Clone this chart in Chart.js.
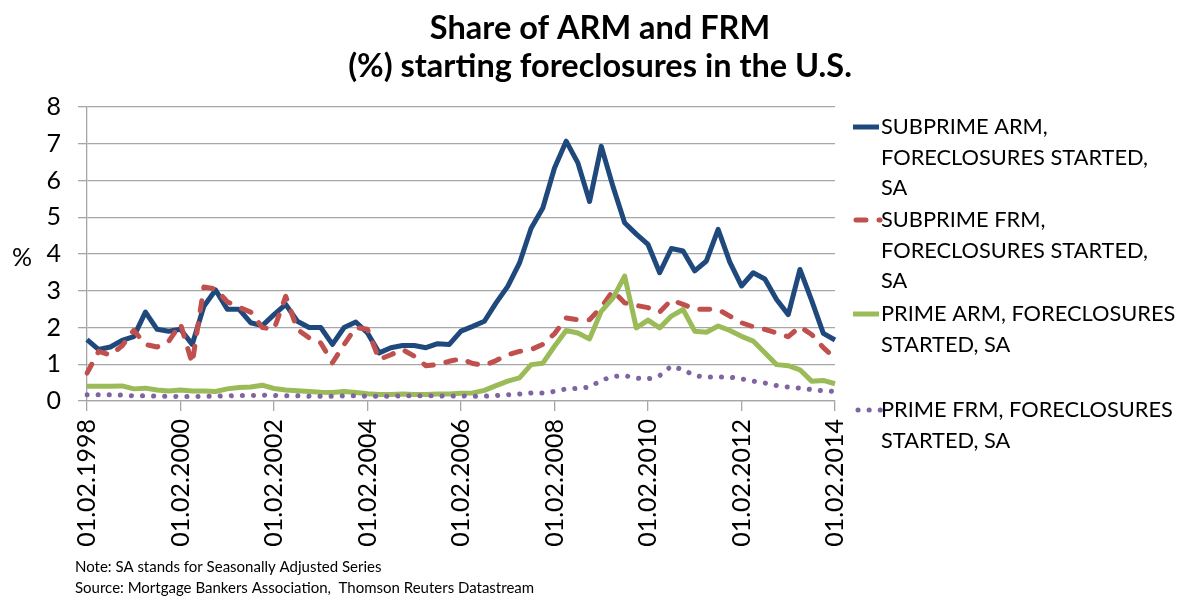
<!DOCTYPE html>
<html>
<head>
<meta charset="utf-8">
<script src="https://cdn.jsdelivr.net/npm/chart.js@4.4.1/dist/chart.umd.min.js"></script>
<style>
  html, body { margin: 0; padding: 0; background: #ffffff; }
  #wrap { position: relative; width: 1187px; height: 599px; }
</style>
</head>
<body>
<div id="wrap"><canvas id="c" width="1187" height="599"></canvas></div>
<script>
// ---- Data (quarterly, 1998Q1 .. 2014Q1) ----
const years = [1998,1999,2000,2001,2002,2003,2004,2005,2006,2007,2008,2009,2010,2011,2012,2013,2014];
const months = ['02','05','08','11'];
const categories = [];
years.forEach(y => months.forEach(m => { if (categories.length < 65) categories.push('01.' + m + '.' + y); }));

const tickLabels = ['01.02.1998','01.02.2000','01.02.2002','01.02.2004','01.02.2006','01.02.2008','01.02.2010','01.02.2012','01.02.2014'];

const subprimeARM = [
  1.67,1.40,1.47,1.65,1.75,2.42,1.95,1.90,
  1.95,1.54,2.58,3.02,2.50,2.50,2.13,2.05,
  2.35,2.63,2.17,2.00,2.00,1.54,2.00,2.15,
  1.85,1.31,1.45,1.51,1.51,1.45,1.56,1.54,
  1.90,2.03,2.17,2.67,3.12,3.75,4.70,5.25,
  6.34,7.07,6.48,5.43,6.93,5.84,4.85,4.54,
  4.26,3.49,4.15,4.08,3.54,3.81,4.67,3.78,
  3.13,3.49,3.32,2.76,2.35,3.58,2.74,1.84,
  1.66
];
const subprimeFRM = [
  0.76,1.35,1.25,1.50,1.92,1.54,1.47,1.63,
  2.10,1.02,3.10,3.05,2.70,2.55,2.42,2.00,
  1.95,2.85,1.95,1.72,1.58,1.04,1.54,2.00,
  1.95,1.13,1.26,1.40,1.22,0.96,0.99,1.08,
  1.15,1.02,0.97,1.10,1.26,1.35,1.40,1.54,
  1.83,2.26,2.21,2.21,2.55,3.00,2.67,2.60,
  2.54,2.42,2.75,2.63,2.50,2.50,2.49,2.31,
  2.13,2.02,1.95,1.85,1.75,2.02,1.81,1.45,
  1.17
];
const primeARM = [
  0.40,0.40,0.40,0.41,0.33,0.35,0.30,0.27,
  0.30,0.27,0.27,0.26,0.33,0.37,0.38,0.43,
  0.34,0.30,0.28,0.26,0.24,0.23,0.26,0.23,
  0.20,0.18,0.18,0.19,0.18,0.18,0.19,0.19,
  0.21,0.22,0.29,0.42,0.54,0.63,0.99,1.03,
  1.49,1.92,1.85,1.69,2.44,2.80,3.40,1.99,
  2.20,1.99,2.31,2.49,1.90,1.87,2.04,1.92,
  1.76,1.63,1.31,0.99,0.96,0.85,0.54,0.56,
  0.47
];
const primeFRM = [
  0.17,0.17,0.17,0.16,0.14,0.14,0.13,0.13,
  0.12,0.12,0.13,0.13,0.14,0.15,0.15,0.16,
  0.15,0.14,0.14,0.13,0.13,0.13,0.14,0.14,
  0.13,0.13,0.13,0.14,0.14,0.14,0.14,0.13,
  0.14,0.13,0.13,0.15,0.17,0.19,0.22,0.22,
  0.26,0.33,0.34,0.38,0.56,0.67,0.69,0.62,
  0.60,0.69,0.95,0.85,0.69,0.65,0.65,0.65,
  0.60,0.54,0.49,0.42,0.38,0.35,0.31,0.28,
  0.26
];

const seriesNames = [
  ['SUBPRIME ARM,', 'FORECLOSURES STARTED,', 'SA'],
  ['SUBPRIME FRM,', 'FORECLOSURES STARTED,', 'SA'],
  ['PRIME ARM, FORECLOSURES', 'STARTED, SA'],
  ['PRIME FRM, FORECLOSURES', 'STARTED, SA']
];
const titleLines = ['Share of ARM and FRM', '(%) starting foreclosures in the U.S.'];
const noteLines = ['Note: SA stands for Seasonally Adjusted Series', 'Source: Mortgage Bankers Association,  Thomson Reuters Datastream'];

const colors = ['#1F497D', '#C0504D', '#9BBB59', '#8064A2'];
const dashes = [[], [10, 13], [], [0.1, 11]];
const widths = [5, 5, 5, 5];

const FONT = 'Lato, "Open Sans", sans-serif';
const TEXT = '#000000';
const GRID = '#a6a6a6';

const overlay = {
  id: 'overlay',
  afterDraw(chart) {
    const ctx = chart.ctx;
    ctx.save();
    // Title
    ctx.fillStyle = TEXT;
    ctx.textAlign = 'center';
    ctx.textBaseline = 'alphabetic';
    ctx.font = 'bold 32.5px ' + FONT;
    ctx.fillText(titleLines[0], 600, 39);
    ctx.fillText(titleLines[1], 600, 77);
    // y axis label
    ctx.font = '25px ' + FONT;
    ctx.textBaseline = 'middle';
    ctx.fillText('%', 22, 258);
    // Legend
    const itemY = [127, 220, 314, 410];
    const lineH = 30.5;
    ctx.font = '21.8px ' + FONT;
    ctx.textAlign = 'left';
    seriesNames.forEach((lines, k) => {
      const y0 = itemY[k];
      ctx.save();
      ctx.strokeStyle = colors[k];
      ctx.lineWidth = widths[k];
      ctx.lineCap = (k === 1 || k === 3) ? 'round' : 'butt';
      ctx.setLineDash(dashes[k]);
      ctx.beginPath();
      if (k === 1) { ctx.moveTo(856, y0); ctx.lineTo(880, y0); }
      else if (k === 3) { ctx.moveTo(858, y0); ctx.lineTo(881, y0); }
      else { ctx.moveTo(853, y0); ctx.lineTo(879, y0); }
      ctx.stroke();
      ctx.restore();
      ctx.fillStyle = TEXT;
      lines.forEach((t, j) => ctx.fillText(t, 881, y0 + j * lineH));
    });
    // Notes
    ctx.font = '15px ' + FONT;
    ctx.textBaseline = 'alphabetic';
    ctx.fillText(noteLines[0], 75, 572);
    ctx.fillText(noteLines[1], 75, 593);
    ctx.restore();
  }
};

const mk = (label, data, k, order) => ({
  label, data,
  borderColor: colors[k],
  backgroundColor: colors[k],
  borderWidth: widths[k],
  borderDash: dashes[k],
  borderCapStyle: (k === 1 || k === 3) ? 'round' : 'butt',
  borderJoinStyle: 'round',
  pointRadius: 0,
  pointHoverRadius: 0,
  tension: 0,
  fill: false,
  order
});

new Chart(document.getElementById('c'), {
  type: 'line',
  data: {
    labels: categories,
    datasets: [
      mk(seriesNames[0].join(' '), subprimeARM, 0, 4),
      mk(seriesNames[1].join(' '), subprimeFRM, 1, 3),
      mk(seriesNames[2].join(' '), primeARM, 2, 2),
      mk(seriesNames[3].join(' '), primeFRM, 3, 1)
    ]
  },
  options: {
    responsive: false,
    animation: false,
    events: [],
    layout: { padding: { top: 107, right: 352, bottom: 0, left: 0 } },
    plugins: {
      legend: { display: false },
      title: { display: false },
      tooltip: { enabled: false }
    },
    scales: {
      x: {
        type: 'category',
        offset: false,
        afterFit(scale) { scale.height = 198; },
        grid: {
          drawOnChartArea: false,
          drawTicks: true,
          tickLength: 10,
          color: (c) => (c.index % 8 === 0 ? GRID : 'rgba(0,0,0,0)'),
          lineWidth: 1.3
        },
        border: { display: true, color: GRID, width: 1.3 },
        ticks: {
          autoSkip: false,
          minRotation: 90,
          maxRotation: 90,
          padding: 8,
          color: TEXT,
          font: { family: FONT, size: 25 },
          callback: (v, i) => (i % 8 === 0 ? tickLabels[i / 8] : '')
        }
      },
      y: {
        min: 0,
        max: 8,
        afterFit(scale) { scale.width = 87; },
        grid: { color: GRID, lineWidth: 1.3, tickLength: 9, drawTicks: true },
        border: { display: true, color: GRID, width: 1.3 },
        ticks: {
          stepSize: 1,
          padding: 17,
          color: TEXT,
          font: { family: FONT, size: 25 }
        }
      }
    }
  },
  plugins: [overlay]
});
</script>
</body>
</html>
